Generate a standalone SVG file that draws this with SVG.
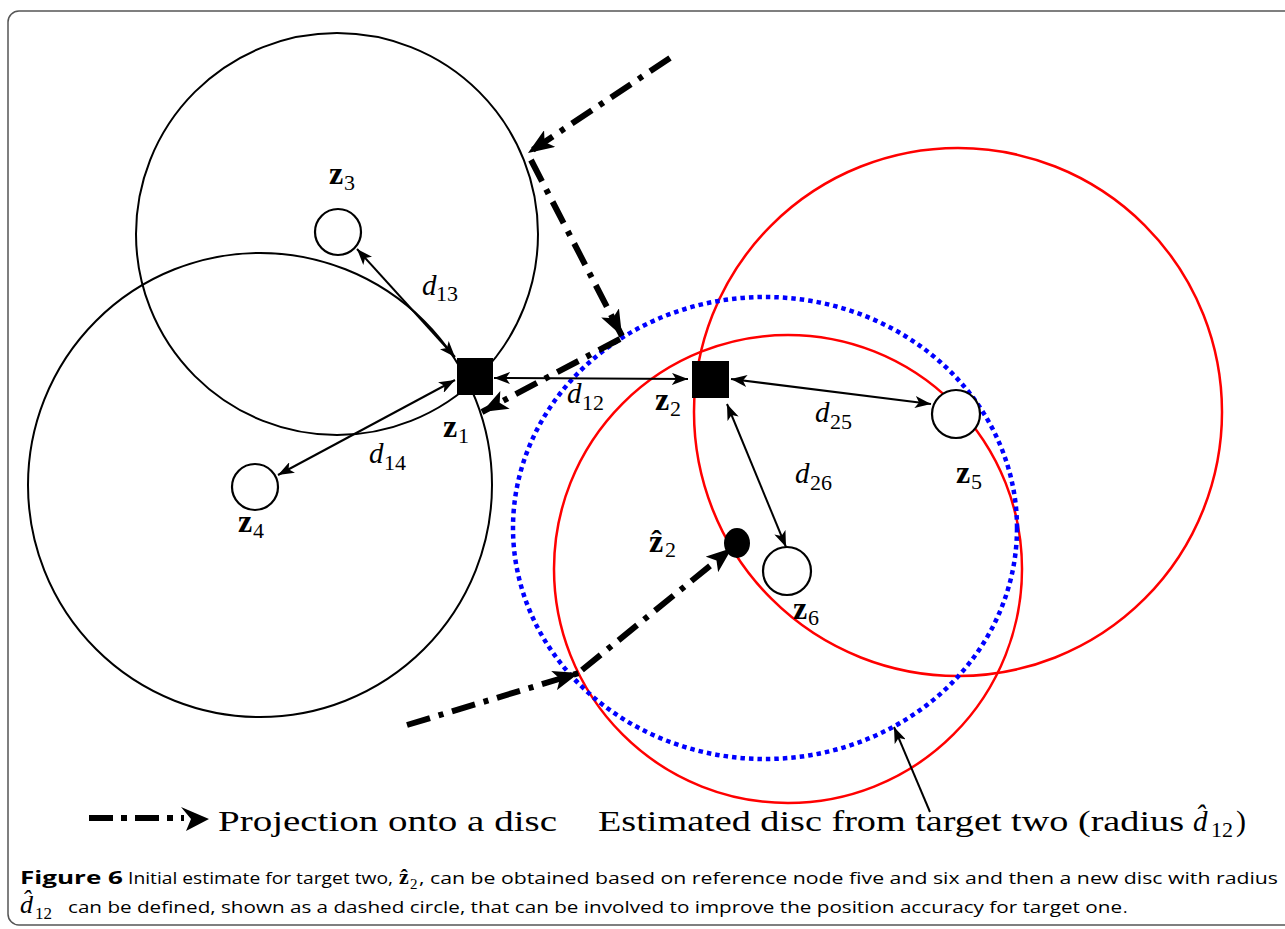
<svg xmlns="http://www.w3.org/2000/svg" width="1285" height="929" viewBox="0 0 1285 929">
<defs>
<marker id="ah" viewBox="0 0 16 12" refX="16" refY="6" markerWidth="16" markerHeight="12" markerUnits="userSpaceOnUse" orient="auto-start-reverse">
<path d="M0,0 L16,6 L0,12 L4,6 Z" fill="#000"/>
</marker>
<marker id="bh" viewBox="0 0 26 20" refX="26" refY="10" markerWidth="26" markerHeight="20" markerUnits="userSpaceOnUse" orient="auto">
<path d="M0,0 L26,10 L0,20 L6,10 Z" fill="#000"/>
</marker>
</defs>
<style>
.frame{fill:#fff;stroke:#555;stroke-width:1.5}
.bc{fill:none;stroke:#000;stroke-width:2}
.rc{fill:none;stroke:#f00;stroke-width:2.5}
.blue{fill:none;stroke:#00f;stroke-width:4.5;stroke-dasharray:4.5 4}
.ref{fill:#fff;stroke:#000;stroke-width:2.2}
.tgt{fill:#000}
.thin{fill:none;stroke:#000;stroke-width:2;marker-end:url(#ah)}
.dbl{marker-start:url(#ah)}
.proj{fill:none;stroke:#000;stroke-width:6;stroke-dasharray:24 9 5 9;marker-end:url(#bh)}
.mz{font-family:"Liberation Serif","DejaVu Serif",serif;font-weight:bold;font-size:32px}
.md{font-family:"Liberation Serif","DejaVu Serif",serif;font-style:italic;font-size:29px}
.ms{font-family:"Liberation Serif","DejaVu Serif",serif;font-size:22px}
.leg{font-family:"Liberation Serif","DejaVu Serif",serif;font-size:30px}
.cap{font-family:"Open Sans","Noto Sans",sans-serif;font-size:17px}
.capb{font-family:"Open Sans","Noto Sans",sans-serif;font-size:17px;font-weight:bold}
</style>
<rect class="frame" x="8" y="11" width="1290" height="914" rx="11"/>

<g id="discs">
<circle class="bc" cx="337" cy="234" r="201"/>
<circle class="bc" cx="260" cy="485" r="232"/>
<circle class="rc" cx="958" cy="412" r="264"/>
<circle class="rc" cx="788" cy="569" r="234"/>
<ellipse class="blue" cx="765" cy="528" rx="252" ry="231"/>
</g>

<g id="connectors">
<line class="thin dbl" x1="357" y1="249" x2="455" y2="357"/>
<line class="thin dbl" x1="455" y1="380" x2="278" y2="475"/>
<line class="thin dbl" x1="494" y1="378" x2="688" y2="379"/>
<line class="thin dbl" x1="731" y1="379" x2="931" y2="404"/>
<line class="thin dbl" x1="727" y1="404" x2="786" y2="547"/>
<line class="thin" x1="930" y1="812" x2="894" y2="727"/>
<line class="proj" x1="670" y1="58" x2="528" y2="153"/>
<line class="proj" x1="531" y1="160" x2="622" y2="336"/>
<line class="proj" x1="620" y1="339" x2="482" y2="412"/>
<line class="proj" x1="407" y1="725" x2="579" y2="673"/>
<line class="proj" x1="582" y1="670" x2="732" y2="548"/>
</g>

<g id="z1"><rect class="tgt" x="457" y="358" width="36" height="37"/>
<text class="mz" x="443" y="437">z</text><text class="ms" x="458" y="443">1</text></g>
<g id="z2"><rect class="tgt" x="692" y="361" width="37" height="37"/>
<text class="mz" x="655" y="410">z</text><text class="ms" x="670" y="416">2</text></g>
<g id="z3"><circle class="ref" cx="338" cy="232" r="23"/>
<text class="mz" x="329" y="184">z</text><text class="ms" x="344" y="190">3</text></g>
<g id="z4"><circle class="ref" cx="255" cy="487" r="23"/>
<text class="mz" x="238" y="532">z</text><text class="ms" x="253" y="538">4</text></g>
<g id="z5"><circle class="ref" cx="956" cy="414" r="24"/>
<text class="mz" x="956" y="483">z</text><text class="ms" x="971" y="489">5</text></g>
<g id="z6"><circle class="ref" cx="787" cy="571" r="24"/>
<text class="mz" x="793" y="619">z</text><text class="ms" x="808" y="625">6</text></g>
<g id="z2hat"><ellipse class="tgt" cx="737" cy="543" rx="13" ry="15"/>
<text class="mz" x="649" y="552">ẑ</text><text class="ms" x="665" y="557">2</text></g>

<g id="labels">
<text class="md" x="422" y="295">d</text><text class="ms" x="436" y="301">13</text>
<text class="md" x="567" y="403">d</text><text class="ms" x="582" y="410">12</text>
<text class="md" x="369" y="463">d</text><text class="ms" x="384" y="470">14</text>
<text class="md" x="815" y="422">d</text><text class="ms" x="830" y="429">25</text>
<text class="md" x="795" y="483">d</text><text class="ms" x="810" y="490">26</text>
</g>

<g id="legend">
<line fill="none" stroke="#000" stroke-width="6" stroke-dasharray="24 8 6 8" x1="89" y1="818" x2="184" y2="818"/>
<path d="M181,807 L209,819 L186,831 L191,819 Z" fill="#000"/>
<text class="leg" x="218" y="831" textLength="339" lengthAdjust="spacingAndGlyphs">Projection onto a disc</text>
<text class="leg" x="598" y="831" textLength="586" lengthAdjust="spacingAndGlyphs">Estimated disc from target two (radius</text>
<text class="md" x="1193" y="831" font-size="30">d&#770;</text>
<text class="ms" x="1211" y="837">12</text><text class="leg" x="1236" y="831">)</text>
</g>

<g id="caption">
<text class="capb" x="20" y="884" textLength="103" lengthAdjust="spacingAndGlyphs">Figure 6</text>
<text class="cap" x="128" y="884" textLength="265" lengthAdjust="spacingAndGlyphs">Initial estimate for target two,</text>
<text x="399" y="884" font-family="Liberation Serif,serif" font-weight="bold" font-size="22">ẑ</text>
<text x="410" y="889" font-family="Liberation Serif,serif" font-size="15">2</text>
<text class="cap" x="419" y="884" textLength="859" lengthAdjust="spacingAndGlyphs">, can be obtained based on reference node five and six and then a new disc with radius</text>
<text x="20" y="913" font-family="Liberation Serif,serif" font-style="italic" font-size="26">d&#770;</text>
<text x="35" y="919" font-family="Liberation Serif,serif" font-size="17">12</text>
<text class="cap" x="68" y="913" textLength="1054" lengthAdjust="spacingAndGlyphs">can be defined, shown as a dashed circle, that can be involved to improve the position accuracy for target one</text>
<text class="cap" x="1123" y="913" font-size="12">.</text>
</g>
</svg>
